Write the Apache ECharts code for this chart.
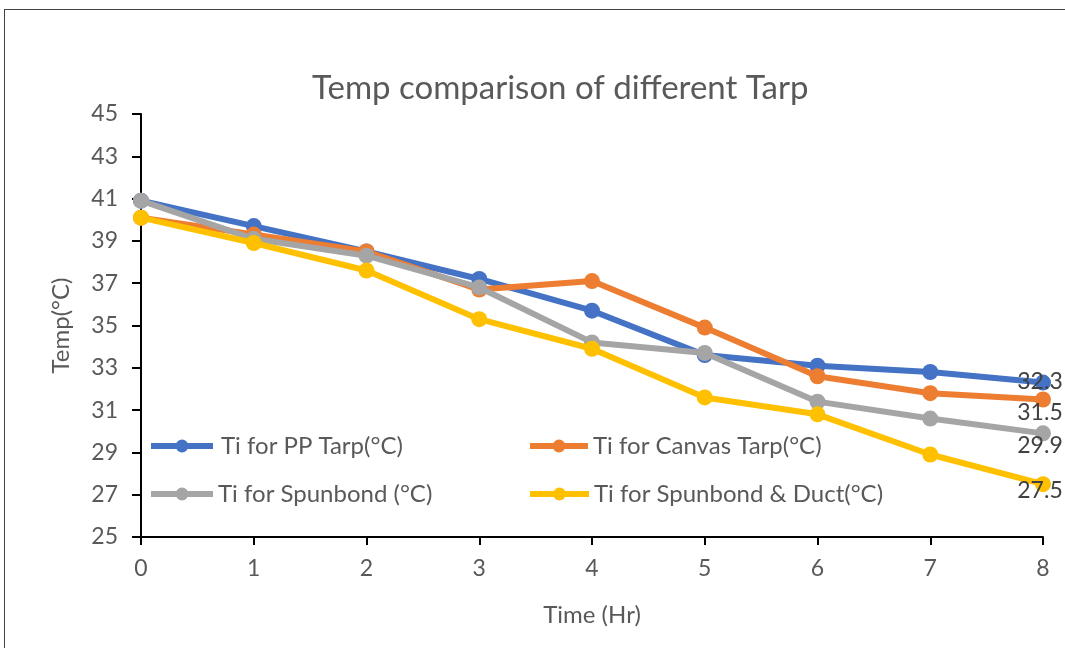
<html>
<head>
    <meta charset="utf-8">
    <script src="https://cdn.jsdelivr.net/npm/echarts@6/dist/echarts.min.js"></script>
    <style>
        html, body { margin: 0; padding: 0; background: #fff; }
        #main { width: 1065px; height: 648px; }
        #frame { position: absolute; left: 4px; top: 9px; width: 1070px; height: 650px; border: 1px solid #444; box-sizing: border-box; pointer-events: none; }
    </style>
</head>
<body>
    <div id="main"></div>
    <div id="frame"></div>
    <script>
        var hours = [0, 1, 2, 3, 4, 5, 6, 7, 8];
        var names = ['Ti for PP Tarp(°C)', 'Ti for Canvas Tarp(°C)', 'Ti for Spunbond (°C)', 'Ti for Spunbond & Duct(°C)'];
        var ppTarp = [40.9, 39.7, 38.5, 37.2, 35.7, 33.6, 33.1, 32.8, 32.3];
        var canvasTarp = [40.1, 39.3, 38.5, 36.7, 37.1, 34.9, 32.6, 31.8, 31.5];
        var spunbond = [40.9, 39.1, 38.3, 36.8, 34.2, 33.7, 31.4, 30.6, 29.9];
        var spunDuct = [40.1, 38.9, 37.6, 35.3, 33.9, 31.6, 30.8, 28.9, 27.5];

        var colors = ['#4472C4', '#ED7D31', '#A5A5A5', '#FFC000'];
        var values = [ppTarp, canvasTarp, spunbond, spunDuct];
        var font = 'Lato';
        // last-point label offsets (Excel pushed them around the edge)
        var labelOffsets = [[-3, -1], [-3, 13], [-3, 12], [-3, 6]];

        var chart = echarts.init(document.getElementById('main'));

        var series = values.map(function (vals, s) {
            return {
                name: names[s],
                type: 'line',
                z: 2 + s,
                symbol: 'circle',
                symbolSize: 16,
                lineStyle: { width: 6, color: colors[s] },
                itemStyle: { color: colors[s] },
                data: vals.map(function (v, i) {
                    var item = { value: [hours[i], v] };
                    if (i == vals.length - 1) {
                        item.label = {
                            show: true,
                            position: 'inside',
                            offset: labelOffsets[s],
                            color: '#404040',
                            fontSize: 23,
                            fontFamily: font,
                            formatter: function (p) { return p.value[1].toFixed(1); }
                        };
                    }
                    return item;
                })
            };
        });

        var legendPos = [[148, 434], [527, 434], [148, 482], [527, 482]];
        var legendIcon = [62, 58, 62, 59];
        var legendGap = [3, 0, 0, 0];
        var legends = names.map(function (n, s) {
            return {
                data: [n],
                left: legendPos[s][0],
                top: legendPos[s][1],
                padding: 0,
                itemWidth: legendIcon[s],
                itemHeight: 16,
                itemGap: 0,
                lineStyle: { width: 6 },
                textStyle: { color: '#595959', fontSize: 24, fontFamily: font, padding: [0, 0, 0, legendGap[s]] }
            };
        });

        var option = {
            animation: false,
            title: {
                text: 'Temp comparison of different Tarp',
                left: 312,
                top: 72,
                padding: 0,
                textStyle: { color: '#595959', fontSize: 33, fontWeight: 'normal', fontFamily: font }
            },
            legend: legends,
            grid: { left: 141, right: 22, top: 114, bottom: 111 },
            xAxis: {
                type: 'value',
                min: 0,
                max: 8,
                interval: 1,
                name: 'Time (Hr)',
                nameLocation: 'middle',
                nameGap: 66,
                nameTextStyle: { color: '#595959', fontSize: 24, fontFamily: font },
                axisLine: { lineStyle: { color: '#000', width: 2 } },
                axisTick: { show: true, length: 8, lineStyle: { color: '#000', width: 2 } },
                axisLabel: { color: '#595959', fontSize: 23, margin: 20, fontFamily: font },
                splitLine: { show: false }
            },
            yAxis: {
                type: 'value',
                min: 25,
                max: 45,
                interval: 2,
                name: 'Temp(°C)',
                nameLocation: 'middle',
                nameGap: 68,
                nameTextStyle: { color: '#595959', fontSize: 24, fontFamily: font },
                axisLine: { show: true, lineStyle: { color: '#000', width: 2 } },
                axisTick: { show: true, length: 9, lineStyle: { color: '#000', width: 2 } },
                axisLabel: { color: '#595959', fontSize: 23, margin: 23, fontFamily: font },
                splitLine: { show: false }
            },
            series: series
        };

        chart.setOption(option);

        window.onresize = function () {
            chart.resize();
        }
    </script>
</body>
</html>
